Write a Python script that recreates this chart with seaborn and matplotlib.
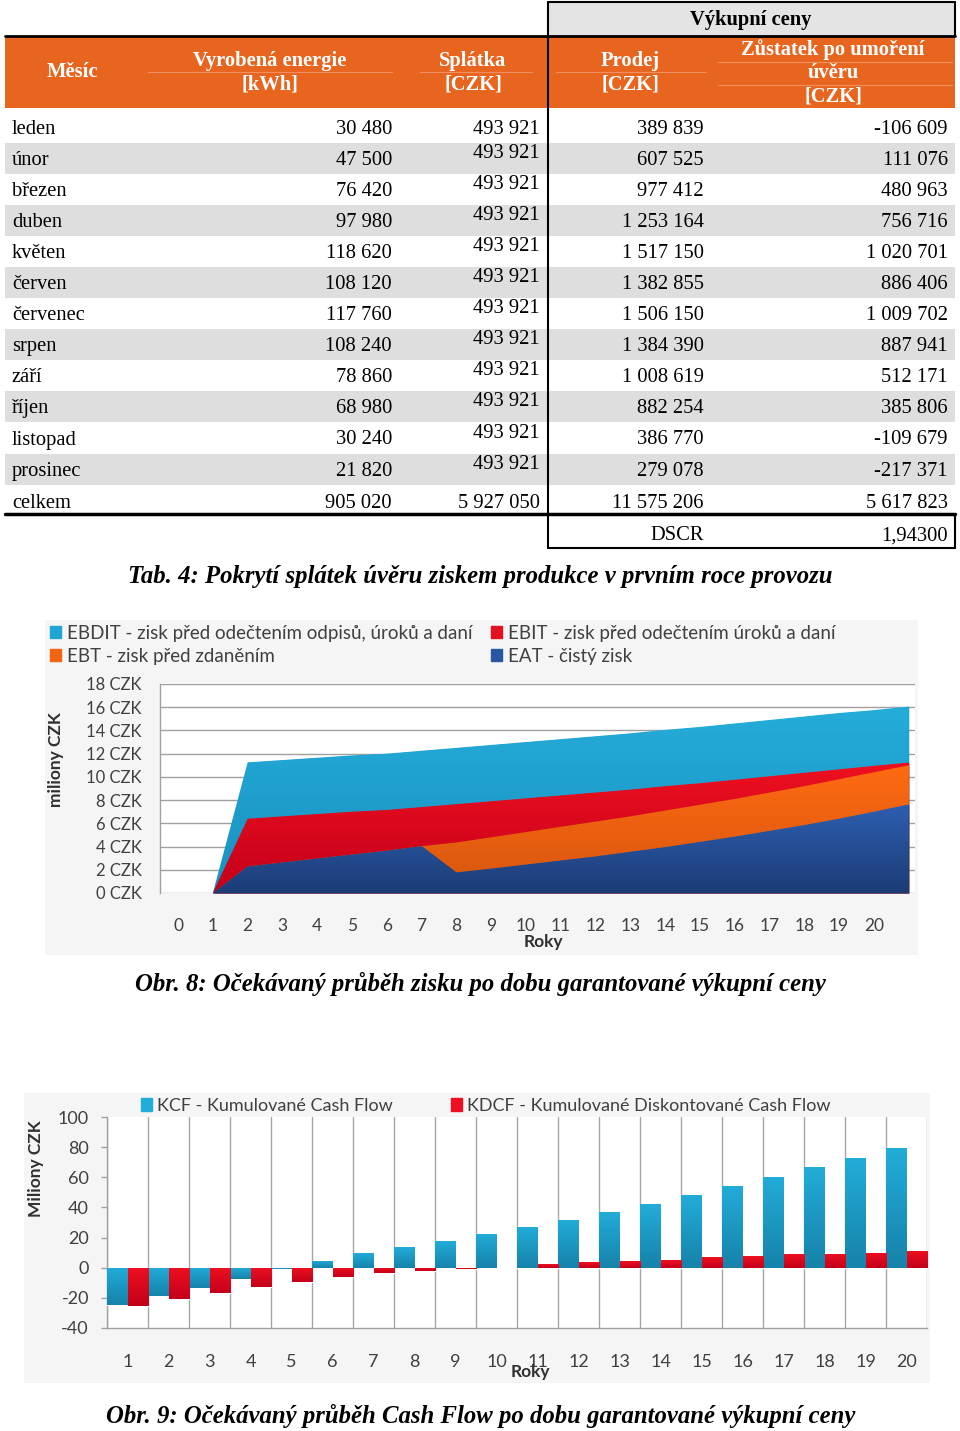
import numpy as np
import pandas as pd
import matplotlib
matplotlib.use("Agg")
import matplotlib.pyplot as plt
import seaborn as sns
from matplotlib.patches import Rectangle, Patch
from matplotlib.colors import LinearSegmentedColormap
from matplotlib.ticker import FixedLocator

# ---------------- data ----------------
months = ["leden", "únor", "březen", "duben", "květen", "červen", "červenec",
          "srpen", "září", "říjen", "listopad", "prosinec"]
energy = [30480, 47500, 76420, 97980, 118620, 108120, 117760, 108240, 78860, 68980, 30240, 21820]
splatka = [493921, 493921, 493921, 493921, 493921, 493921, 493921, 493921, 493921, 493921, 493921, 493921]
prodej = [389839, 607525, 977412, 1253164, 1517150, 1382855, 1506150, 1384390, 1008619, 882254, 386770, 279078]
zustatek = [-106609, 111076, 480963, 756716, 1020701, 886406, 1009702, 887941, 512171, 385806, -109679, -217371]
totals = [905020, 5927050, 11575206, 5617823]
dscr = "1,94300"

area_pos = [1, 2, 3, 4, 5, 6, 7, 8, 9, 10, 11, 12, 13, 14, 15, 16, 17, 18, 19, 20, 21]
area_ticks = [0, 1, 2, 3, 4, 5, 6, 7, 8, 9, 10, 11, 12, 13, 14, 15, 16, 17, 18, 19, 20]
ebdit = [0, 11.25, 11.45, 11.65, 11.85, 12.0, 12.25, 12.5, 12.75, 13.0, 13.25, 13.5, 13.75,
         14.05, 14.3, 14.6, 14.9, 15.2, 15.5, 15.75, 16.06]
ebit = [0, 6.4, 6.6, 6.8, 7.0, 7.15, 7.4, 7.65, 7.9, 8.15, 8.4, 8.65, 8.9, 9.2, 9.45,
        9.75, 10.05, 10.35, 10.65, 10.95, 11.23]
ebt = [0, 2.29, 2.63, 2.97, 3.31, 3.65, 4.03, 4.35, 4.8, 5.25, 5.7, 6.15, 6.6, 7.1, 7.6,
       8.1, 8.65, 9.2, 9.8, 10.4, 11.0]
eat = [0, 2.29, 2.63, 2.97, 3.31, 3.65, 4.03, 1.77, 2.1, 2.45, 2.8, 3.15, 3.55, 3.95, 4.4,
       4.85, 5.35, 5.85, 6.4, 7.0, 7.63]
area_names = ["EBDIT - zisk před odečtením odpisů, úroků a daní",
              "EBIT - zisk před odečtením úroků a daní",
              "EBT - zisk před zdaněním",
              "EAT - čistý zisk"]

years = [1, 2, 3, 4, 5, 6, 7, 8, 9, 10, 11, 12, 13, 14, 15, 16, 17, 18, 19, 20]
kcf = [-24.8, -18.8, -13.5, -7.5, -1.1, 4.7, 9.5, 13.5, 17.9, 22.6, 27.2, 31.9, 37.0,
       42.3, 48.3, 54.1, 60.0, 66.7, 72.9, 79.5]
kdcf = [-25.5, -20.8, -16.8, -12.8, -9.5, -6.2, -3.8, -2.3, -0.6, -0.2, 2.2, 3.5, 4.2,
        5.3, 6.9, 7.5, 8.9, 9.3, 10.0, 10.9]
bar_names = ["KCF - Kumulované Cash Flow", "KDCF - Kumulované Diskontované Cash Flow"]

# ---------------- style ----------------
sns.set_theme(style="white")
plt.rcParams['font.family'] = ['Lato', 'DejaVu Sans']
plt.rcParams['axes.unicode_minus'] = False
SERIF = ['Liberation Serif', 'DejaVu Serif']

W, H = 960, 1431
fig = plt.figure(figsize=(9.6, 14.31), dpi=100)
bg = fig.add_axes([0, 0, 1, 1], zorder=0)
bg.set_xlim(0, W)
bg.set_ylim(H, 0)
bg.axis('off')


def fmt(v):
    s = f"{abs(v):,}".replace(",", " ")
    return ("-" if v < 0 else "") + s


# ---------------- table ----------------
TFS = 14.8
ORANGE = '#E8651F'
bg.add_patch(Rectangle((548, 2), 407, 34, fc='#E4E4E4', ec='none'))
bg.plot([548, 955], [2, 2], color='black', lw=1.5)
bg.plot([955, 955], [2, 36], color='black', lw=1.5)
bg.text(751, 20, "Výkupní ceny", ha='center', va='center', fontsize=TFS,
        fontweight='bold', family=SERIF, color='black')
bg.add_patch(Rectangle((5, 36), 950, 72, fc=ORANGE, ec='none'))
bg.plot([5, 955], [36, 36], color='black', lw=2)
for (x0, x1, yy) in [(148, 392, 72), (420, 532, 72), (556, 706, 72), (718, 952, 62), (718, 952, 85)]:
    bg.plot([x0, x1], [yy, yy], color='#F09060', lw=0.8)
hdr = dict(ha='center', va='center', fontsize=TFS, fontweight='bold', family=SERIF, color='white')
bg.text(72, 72, "Měsíc", **hdr)
bg.text(270, 61, "Vyrobená energie", **hdr)
bg.text(270, 84, "[kWh]", **hdr)
bg.text(473, 61, "Splátka", **hdr)
bg.text(473, 84, "[CZK]", **hdr)
bg.text(630, 61, "Prodej", **hdr)
bg.text(630, 84, "[CZK]", **hdr)
bg.text(833, 50, "Zůstatek po umoření", **hdr)
bg.text(833, 73, "úvěru", **hdr)
bg.text(833, 96, "[CZK]", **hdr)

ROW0, RH = 129, 31.1
cell = dict(va='center', fontsize=TFS, family=SERIF, color='black')
for i, m in enumerate(months):
    yc = ROW0 + RH * i
    if i % 2 == 1:
        bg.add_patch(Rectangle((5, yc - RH / 2 - 2), 950, RH, fc='#DEDEDE', ec='none', zorder=0.5))
    bg.text(12, yc, m, ha='left', **cell)
    bg.text(392, yc, fmt(energy[i]), ha='right', **cell)
    bg.text(540, yc - (7 if i > 0 else 0), fmt(splatka[i]), ha='right', **cell)
    bg.text(704, yc, fmt(prodej[i]), ha='right', **cell)
    bg.text(948, yc, fmt(zustatek[i]), ha='right', **cell)
yc = ROW0 + RH * 12 + 1
bg.text(12, yc, "celkem", ha='left', **cell)
for xr, v in zip([392, 540, 704, 948], totals):
    bg.text(xr, yc, fmt(v), ha='right', **cell)
bg.plot([5, 955], [514, 514], color='black', lw=2.5)
bg.text(677, 536, "DSCR", ha='center', **cell)
bg.text(948, 536, dscr, ha='right', **cell)
bg.plot([548, 548], [2, 548], color='black', lw=1.5)
bg.plot([955, 955], [514, 548], color='black', lw=1.5)
bg.plot([548, 955], [548, 548], color='black', lw=1.5)

cap = dict(ha='center', va='center', fontsize=17.8, fontweight='bold', style='italic',
           family=SERIF, color='black')
bg.text(480, 577, "Tab. 4: Pokrytí splátek úvěru ziskem produkce v prvním roce provozu", **cap)
bg.text(480, 984, "Obr. 8: Očekávaný průběh zisku po dobu garantované výkupní ceny", **cap)
bg.text(481, 1416, "Obr. 9: Očekávaný průběh Cash Flow po dobu garantované výkupní ceny", **cap)

# chart backgrounds
bg.add_patch(Rectangle((45, 620), 873, 335, fc='#F5F5F5', ec='none', zorder=0.2))
bg.add_patch(Rectangle((24, 1093), 906, 290, fc='#F5F5F5', ec='none', zorder=0.2))

# ---------------- area chart ----------------
ax1 = fig.add_axes([160 / W, 1 - 893 / H, 755 / W, 209 / H], zorder=2)
ax1.set_facecolor('white')
x = np.array(area_pos, dtype=float)
area_styles = [
    (ebdit, '#25ADDA', '#1890BF'),
    (ebit, '#EE1020', '#C4001A'),
    (ebt, '#FF6A12', '#D6560E'),
    (eat, '#2D5FB0', '#1C3C76'),
]
for k, (vals, ctop, cbot) in enumerate(area_styles):
    v = np.array(vals)
    poly = ax1.fill_between(x, 0, v, color=cbot, lw=0, zorder=2 + k)
    cmap = LinearSegmentedColormap.from_list('g%d' % k, [cbot, ctop])
    grad = np.linspace(0, 1, 256).reshape(-1, 1)
    im = ax1.imshow(grad, extent=[x.min(), x.max(), 0, v.max()], origin='lower',
                    cmap=cmap, aspect='auto', zorder=2.5 + k, interpolation='bilinear')
    im.set_clip_path(poly.get_paths()[0], transform=ax1.transData)

ax1.set_xlim(-0.52, 21.18)
ax1.set_ylim(0, 18)
ax1.set_yticks(range(0, 19, 2))
ax1.set_yticklabels([f"{v} CZK" for v in range(0, 19, 2)])
ax1.set_xticks(area_ticks)
ax1.set_xticklabels([str(t) for t in area_ticks])
ax1.grid(axis='y', color='#A0A0A0', lw=1)
ax1.grid(axis='x', visible=False)
ax1.set_axisbelow(True)
for s in ['top', 'right', 'bottom']:
    ax1.spines[s].set_visible(False)
ax1.spines['left'].set_color('#A0A0A0')
ax1.spines['left'].set_linewidth(1)
ax1.tick_params(axis='y', length=0, pad=13, labelsize=12, labelcolor='#404040')
ax1.tick_params(axis='x', length=0, pad=18, labelsize=12.5, labelcolor='#404040')
ax1.set_xlabel("Roky", fontsize=12.5, fontweight='bold', color='#303030')
ax1.xaxis.set_label_coords((543 - 160) / 755, (893 - 934) / 209)
ax1.set_ylabel("miliony CZK", fontsize=12.5, fontweight='bold', color='#303030')
ax1.yaxis.set_label_coords((64 - 160) / 755, (893 - 760) / 209)

leg_cols = ['#1EA5D2', '#E3101E', '#F06412', '#2756A3']
handles = [Patch(color=leg_cols[i], label=area_names[i]) for i in [0, 2, 1, 3]]
fig.legend(handles=handles, loc='upper left', bbox_to_anchor=(50 / W, 1 - 625 / H),
           ncol=2, frameon=False, fontsize=13.5, handlelength=0.6, handleheight=0.6,
           handletextpad=0.3, columnspacing=1.0, borderpad=0, borderaxespad=0,
           labelspacing=0.3, labelcolor='#404040')

# ---------------- bar chart ----------------
df = pd.DataFrame({
    'Rok': years + years,
    'serie': [bar_names[0]] * len(years) + [bar_names[1]] * len(years),
    'hodnota': kcf + kdcf,
})
ax2 = fig.add_axes([107 / W, 1 - 1328 / H, 820 / W, 211 / H], zorder=2)
ax2.set_facecolor('white')
bar_top = ['#22ACD8', '#EE1020']
bar_bot = ['#1683AA', '#C4001A']
sns.barplot(data=df, x='Rok', y='hodnota', hue='serie', palette=bar_top, width=1.0,
            saturation=1, ax=ax2, legend=False, zorder=3)
bars = [p for p in ax2.patches if isinstance(p, Rectangle)]
for p in bars:
    fc = p.get_facecolor()
    idx = 0 if abs(fc[0] - matplotlib.colors.to_rgb(bar_top[0])[0]) < 0.05 else 1
    x0, y0, w, h = p.get_x(), p.get_y(), p.get_width(), p.get_height()
    if w <= 0 or h == 0:
        continue
    ylo, yhi = min(y0, y0 + h), max(y0, y0 + h)
    cmap = LinearSegmentedColormap.from_list('b', [bar_bot[idx], bar_top[idx]])
    im = ax2.imshow(np.linspace(0, 1, 64).reshape(-1, 1), extent=[x0, x0 + w, ylo, yhi],
                    origin='lower', cmap=cmap, aspect='auto', zorder=3.5,
                    interpolation='bilinear')
    im.set_clip_path(p)

ax2.set_xlim(-0.5, 19.5)
ax2.set_ylim(-40, 100)
ax2.set_yticks(range(-40, 101, 20))
ax2.set_yticklabels([str(v) for v in range(-40, 101, 20)])
ax2.xaxis.set_minor_locator(FixedLocator(np.arange(-0.5, 20.0, 1.0)))
ax2.grid(which='minor', axis='x', color='#A6A6A6', lw=1)
ax2.grid(which='major', visible=False)
ax2.set_axisbelow(True)
for s in ['top', 'right']:
    ax2.spines[s].set_visible(False)
for s in ['left', 'bottom']:
    ax2.spines[s].set_color('#A0A0A0')
    ax2.spines[s].set_linewidth(1)
ax2.tick_params(axis='y', which='major', left=True, length=4, width=1, color='#A0A0A0',
                pad=9, labelsize=13, labelcolor='#404040')
ax2.tick_params(axis='x', which='both', length=0, pad=19, labelsize=13, labelcolor='#404040')
ax2.set_xlabel("Roky", fontsize=12.5, fontweight='bold', color='#303030')
ax2.xaxis.set_label_coords((530 - 107) / 820, (1328 - 1364) / 211)
ax2.set_ylabel("Miliony CZK", fontsize=12.5, fontweight='bold', color='#303030')
ax2.yaxis.set_label_coords((44 - 107) / 820, (1328 - 1169) / 211)

bh = [Patch(color=bar_top[i], label=bar_names[i]) for i in range(2)]
fig.legend(handles=bh, loc='upper left', bbox_to_anchor=(141 / W, 1 - 1098 / H), ncol=2,
           frameon=False, fontsize=13, handlelength=0.6, handleheight=0.7,
           handletextpad=0.3, columnspacing=3.2, borderpad=0, borderaxespad=0,
           labelcolor='#404040')

fig.savefig("out.png", dpi=100)
